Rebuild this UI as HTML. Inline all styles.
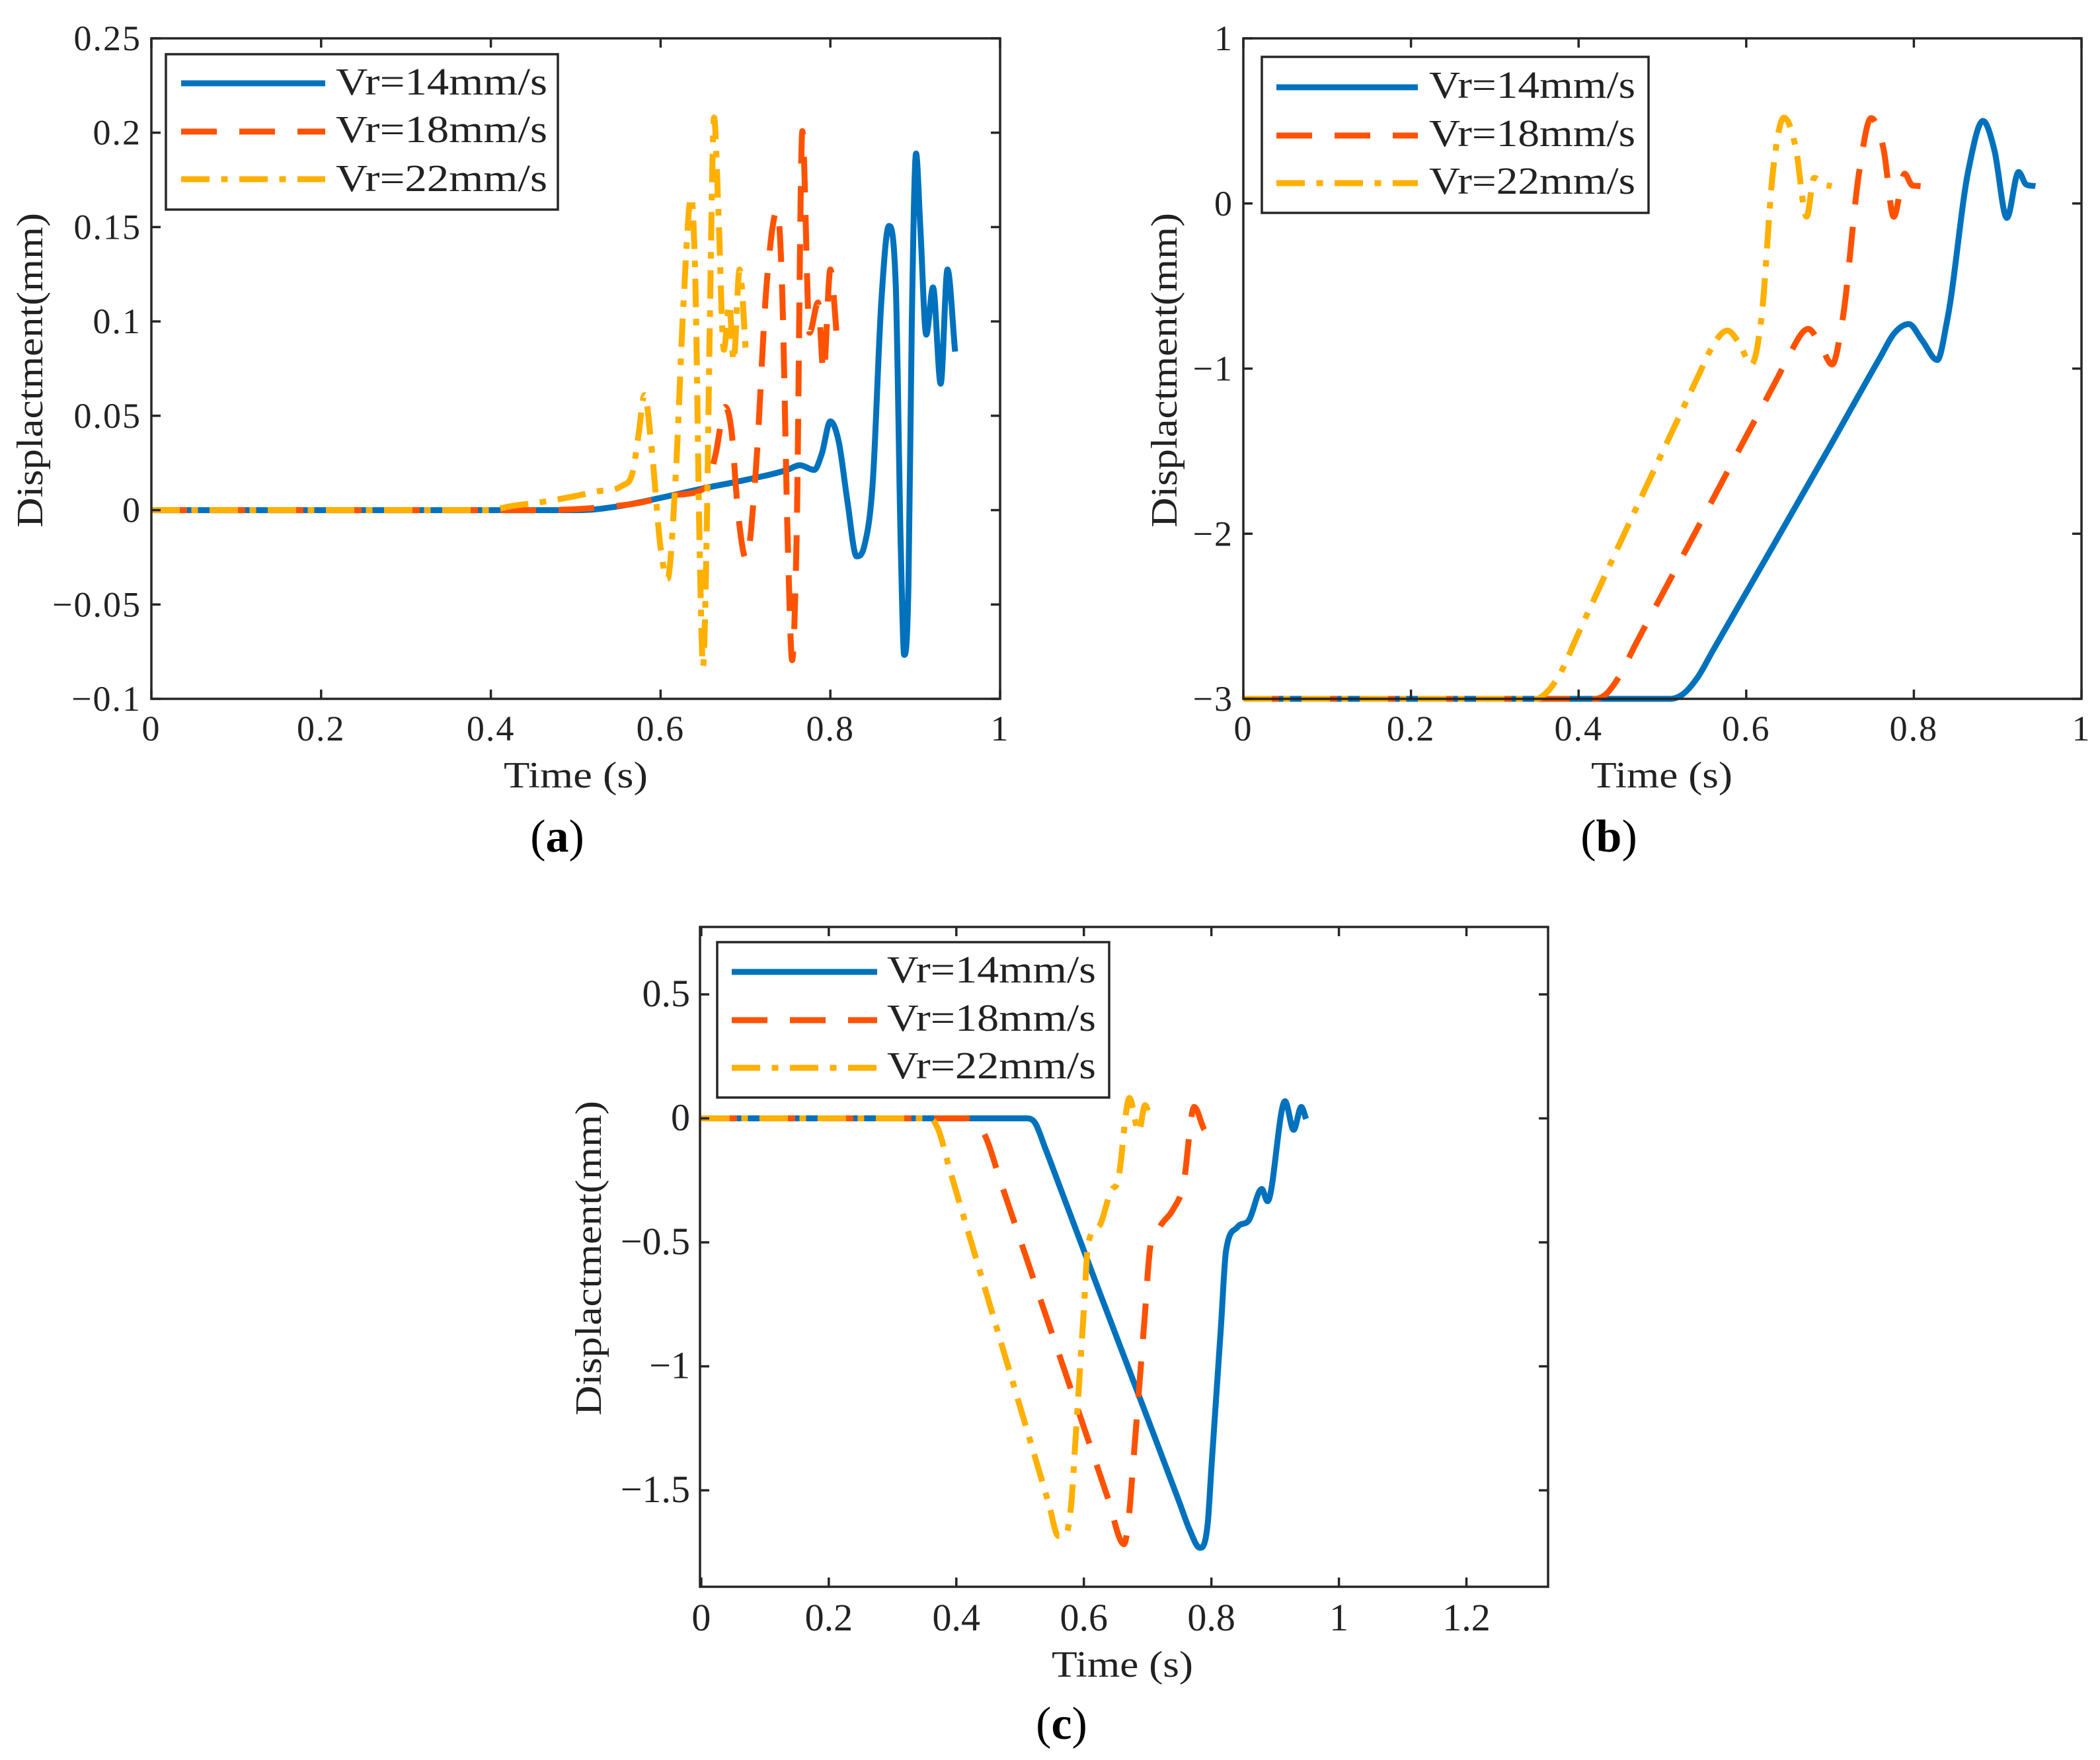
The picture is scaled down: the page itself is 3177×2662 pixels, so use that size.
<!DOCTYPE html>
<html lang="en">
<head>
<meta charset="utf-8">
<title>Displacement vs Time</title>
<style>
html,body{margin:0;padding:0;background:#fff;}
svg{display:block;}
text{font-family:"Liberation Serif",serif;fill:#222;}
.tick{font-size:54px;letter-spacing:2px;}
.tickc{font-size:58px;}
.leg{font-size:58px;}
.title{font-size:56px;}
.cap{font-size:70px;fill:#000;}
.frame{fill:none;stroke:#262626;stroke-width:3.5;}
.legbox{fill:#fff;stroke:#262626;stroke-width:3.5;}
</style>
</head>
<body>
<svg id="figure" xmlns="http://www.w3.org/2000/svg" width="3177" height="2662" viewBox="0 0 3177 2662">
  <rect width="3177" height="2662" fill="#fff"/>

  <g id="panel-a">
    <g id="a-marks"></g>
    <rect class="frame" x="229" y="58" width="1284" height="999"/>
    <g id="a-ticks"></g>
    <text class="title" x="871" y="1191" text-anchor="middle" textLength="218" lengthAdjust="spacingAndGlyphs">Time (s)</text>
    <text class="title" transform="translate(64,560) rotate(-90)" text-anchor="middle" textLength="476" lengthAdjust="spacingAndGlyphs">Displactment(mm)</text>
    <g>
      <rect class="legbox" x="251" y="82" width="593" height="235"/>
      <line x1="274" x2="492" y1="126" y2="126" stroke="#0072BD" stroke-width="9"/>
      <line x1="274" x2="492" y1="199" y2="199" stroke="#FF5200" stroke-width="9" stroke-dasharray="54 34"/>
      <line x1="274" x2="492" y1="271" y2="271" stroke="#FFB000" stroke-width="9" stroke-dasharray="43 17.5 10 17.5"/>
      <text class="leg" x="508" y="143" textLength="320" lengthAdjust="spacingAndGlyphs">Vr=14mm/s</text>
      <text class="leg" x="508" y="215" textLength="320" lengthAdjust="spacingAndGlyphs">Vr=18mm/s</text>
      <text class="leg" x="508" y="289" textLength="320" lengthAdjust="spacingAndGlyphs">Vr=22mm/s</text>
    </g>
    <text class="cap" x="843" y="1288" text-anchor="middle">(<tspan font-weight="bold">a</tspan>)</text>
  </g>

  <g id="panel-b">
    <g id="b-marks"></g>
    <rect class="frame" x="1881" y="58" width="1268" height="999"/>
    <g id="b-ticks"></g>
    <text class="title" x="2514" y="1191" text-anchor="middle" textLength="214" lengthAdjust="spacingAndGlyphs">Time (s)</text>
    <text class="title" transform="translate(1780,560) rotate(-90)" text-anchor="middle" textLength="476" lengthAdjust="spacingAndGlyphs">Displactment(mm)</text>
    <g>
      <rect class="legbox" x="1909" y="86" width="585" height="236"/>
      <line x1="1931" x2="2145" y1="132" y2="132" stroke="#0072BD" stroke-width="9"/>
      <line x1="1931" x2="2145" y1="205" y2="205" stroke="#FF5200" stroke-width="9" stroke-dasharray="54 34"/>
      <line x1="1931" x2="2145" y1="277" y2="277" stroke="#FFB000" stroke-width="9" stroke-dasharray="43 17.5 10 17.5"/>
      <text class="leg" x="2162" y="148" textLength="312" lengthAdjust="spacingAndGlyphs">Vr=14mm/s</text>
      <text class="leg" x="2162" y="221" textLength="312" lengthAdjust="spacingAndGlyphs">Vr=18mm/s</text>
      <text class="leg" x="2162" y="293" textLength="312" lengthAdjust="spacingAndGlyphs">Vr=22mm/s</text>
    </g>
    <text class="cap" x="2434" y="1288" text-anchor="middle">(<tspan font-weight="bold">b</tspan>)</text>
  </g>

  <g id="panel-c">
    <g id="c-marks"></g>
    <rect class="frame" x="1059" y="1402" width="1283" height="998"/>
    <g id="c-ticks"></g>
    <text class="title" x="1698" y="2536" text-anchor="middle" textLength="214" lengthAdjust="spacingAndGlyphs">Time (s)</text>
    <text class="title" transform="translate(909,1903) rotate(-90)" text-anchor="middle" textLength="476" lengthAdjust="spacingAndGlyphs">Displactment(mm)</text>
    <g>
      <rect class="legbox" x="1085" y="1425" width="593" height="235"/>
      <line x1="1107" x2="1327" y1="1470" y2="1470" stroke="#0072BD" stroke-width="9"/>
      <line x1="1107" x2="1327" y1="1543" y2="1543" stroke="#FF5200" stroke-width="9" stroke-dasharray="54 34"/>
      <line x1="1107" x2="1327" y1="1615" y2="1615" stroke="#FFB000" stroke-width="9" stroke-dasharray="43 17.5 10 17.5"/>
      <text class="leg" x="1342" y="1486" textLength="316" lengthAdjust="spacingAndGlyphs">Vr=14mm/s</text>
      <text class="leg" x="1342" y="1559" textLength="316" lengthAdjust="spacingAndGlyphs">Vr=18mm/s</text>
      <text class="leg" x="1342" y="1631" textLength="316" lengthAdjust="spacingAndGlyphs">Vr=22mm/s</text>
    </g>
    <text class="cap" x="1606" y="2630" text-anchor="middle">(<tspan font-weight="bold">c</tspan>)</text>
  </g>
</svg>

<script>
// ---------- Panel (a) data ----------
const aXTicks = [0, 0.2, 0.4, 0.6, 0.8, 1];
const aXLabels = ["0", "0.2", "0.4", "0.6", "0.8", "1"];
const aYTicks = [-0.1, -0.05, 0, 0.05, 0.1, 0.15, 0.2, 0.25];
const aYLabels = ["\u22120.1", "\u22120.05", "0", "0.05", "0.1", "0.15", "0.2", "0.25"];
const aT14 = [0, 0.5, 0.52, 0.55, 0.6, 0.65, 0.7, 0.75, 0.764, 0.781, 0.79, 0.8, 0.81, 0.82, 0.831, 0.84, 0.85, 0.86, 0.869, 0.877, 0.883, 0.887, 0.892, 0.896, 0.901, 0.906, 0.913, 0.921, 0.93, 0.938, 0.947];
const aV14 = [0, 0, 0.0003, 0.002, 0.0065, 0.0115, 0.016, 0.0215, 0.0238, 0.0213, 0.03, 0.047, 0.036, 0.005, -0.0245, -0.019, 0.015, 0.11, 0.1506, 0.12, -0.02, -0.0767, -0.04, 0.1, 0.189, 0.15, 0.093, 0.118, 0.067, 0.1275, 0.084];
const aT18 = [0, 0.46, 0.5, 0.53, 0.57, 0.61, 0.653, 0.665, 0.676, 0.684, 0.69, 0.701, 0.712, 0.725, 0.7375, 0.743, 0.75, 0.755, 0.76, 0.767, 0.7755, 0.7855, 0.792, 0.8, 0.808];
const aV18 = [0, 0, 0.0005, 0.0015, 0.0035, 0.0075, 0.012, 0.03, 0.0547, 0.04, 0.005, -0.026, 0.02, 0.12, 0.159, 0.12, -0.02, -0.0795, -0.02, 0.2008, 0.094, 0.11, 0.073, 0.1275, 0.09];
const aT22 = [0, 0.4, 0.42, 0.47, 0.524, 0.555, 0.567, 0.574, 0.581, 0.59, 0.6, 0.608, 0.618, 0.627, 0.636, 0.641, 0.646, 0.65, 0.654, 0.658, 0.663, 0.668, 0.6745, 0.681, 0.686, 0.693, 0.701];
const aV22 = [0, 0, 0.0018, 0.005, 0.0098, 0.013, 0.02, 0.04, 0.061, 0.03, -0.02, -0.0365, 0.02, 0.11, 0.166, 0.12, -0.02, -0.083, -0.02, 0.1, 0.208, 0.16, 0.085, 0.109, 0.079, 0.1275, 0.08];

// ---------- Panel (b) data ----------
const bXTicks = [0, 0.2, 0.4, 0.6, 0.8, 1];
const bXLabels = ["0", "0.2", "0.4", "0.6", "0.8", "1"];
const bYTicks = [-3, -2, -1, 0, 1];
const bYLabels = ["\u22123", "\u22122", "\u22121", "0", "1"];
const bT14 = [0, 0.51, 0.522, 0.542, 0.56, 0.62, 0.7, 0.76, 0.776, 0.794, 0.81, 0.828, 0.84, 0.865, 0.8825, 0.896, 0.911, 0.925, 0.934, 0.945];
const bV14 = [-3, -3, -2.98, -2.87, -2.71, -2.18, -1.47, -0.93, -0.79, -0.73, -0.83, -0.948, -0.7, 0.2, 0.5, 0.325, -0.087, 0.19, 0.115, 0.105];
const bT18 = [0, 0.42, 0.433, 0.444, 0.47, 0.53, 0.6, 0.64, 0.651, 0.674, 0.688, 0.7025, 0.715, 0.735, 0.749, 0.764, 0.776, 0.789, 0.798, 0.808];
const bV18 = [-3, -3, -2.97, -2.9, -2.65, -2.08, -1.41, -1.03, -0.92, -0.76, -0.85, -0.975, -0.7, 0.2, 0.517, 0.325, -0.08, 0.18, 0.11, 0.105];
const bT22 = [0, 0.35, 0.36, 0.376, 0.4, 0.46, 0.52, 0.545, 0.557, 0.5775, 0.592, 0.606, 0.618, 0.632, 0.645, 0.659, 0.672, 0.681, 0.693, 0.702];
const bV22 = [-3, -3, -2.97, -2.865, -2.6, -1.94, -1.29, -1.02, -0.89, -0.77, -0.85, -0.975, -0.7, 0.2, 0.52, 0.34, -0.08, 0.155, 0.115, 0.105];

// ---------- Panel (c) data ----------
const cXTicks = [0, 0.2, 0.4, 0.6, 0.8, 1, 1.2];
const cXLabels = ["0", "0.2", "0.4", "0.6", "0.8", "1", "1.2"];
const cYTicks = [-1.5, -1, -0.5, 0, 0.5];
const cYLabels = ["\u22121.5", "\u22121", "\u22120.5", "0", "0.5"];
const cT14 = [0, 0.51, 0.522, 0.54, 0.56, 0.62, 0.7, 0.75, 0.766, 0.782, 0.794, 0.8, 0.815, 0.823, 0.841, 0.859, 0.879, 0.888, 0.9155, 0.929, 0.941, 0.9485];
const cV14 = [0, 0, -0.013, -0.124, -0.26, -0.67, -1.21, -1.55, -1.66, -1.732, -1.64, -1.41, -0.84, -0.533, -0.438, -0.41, -0.285, -0.334, 0.069, -0.046, 0.046, -0.002];
const cT18 = [0, 0.42, 0.444, 0.47, 0.53, 0.59, 0.625, 0.6375, 0.663, 0.671, 0.678, 0.695, 0.704, 0.72, 0.74, 0.756, 0.773, 0.792, 0.8];
const cV18 = [0, 0, -0.064, -0.26, -0.716, -1.17, -1.435, -1.53, -1.717, -1.595, -1.37, -0.815, -0.522, -0.434, -0.367, -0.268, 0.046, -0.053, 0.02];
const cT22 = [0, 0.359, 0.37, 0.39, 0.45, 0.51, 0.545, 0.56, 0.57, 0.581, 0.587, 0.6, 0.6066, 0.627, 0.643, 0.653, 0.6715, 0.686, 0.696, 0.704];
const cV22 = [0, 0, -0.035, -0.21, -0.73, -1.25, -1.554, -1.684, -1.684, -1.53, -1.29, -0.77, -0.51, -0.42, -0.29, -0.257, 0.082, -0.053, 0.053, 0];

// ---------- Drawing ----------
const SVGNS = "http://www.w3.org/2000/svg";
const SERIES_STYLES = [
  {key: "14", color: "#0072BD", dash: ""},
  {key: "18", color: "#FF5200", dash: "54 34"},
  {key: "22", color: "#FFB000", dash: "43 17.5 10 17.5"}
];

function linear(d0, d1, r0, r1) {
  return function (v) { return r0 + (v - d0) * (r1 - r0) / (d1 - d0); };
}

// Cubic path through the data points: finite-difference tangents,
// zero at local extrema and limited so that no segment overshoots.
function monotonePath(ts, vs, sx, sy) {
  const n = ts.length, xs = ts.map(sx), ys = vs.map(sy);
  const d = [], m = new Array(n).fill(0);
  for (let i = 0; i < n - 1; i++) d.push((ys[i + 1] - ys[i]) / (xs[i + 1] - xs[i]));
  m[0] = d[0]; m[n - 1] = d[n - 2];
  for (let i = 1; i < n - 1; i++) {
    if (d[i - 1] * d[i] <= 0) { m[i] = 0; continue; }
    const h0 = xs[i] - xs[i - 1], h1 = xs[i + 1] - xs[i];
    const p = (d[i - 1] * h1 + d[i] * h0) / (h0 + h1);
    const lim = 3 * Math.min(Math.abs(d[i - 1]), Math.abs(d[i]));
    m[i] = Math.sign(p) * Math.min(Math.abs(p), lim);
  }
  let p = "M" + xs[0].toFixed(2) + " " + ys[0].toFixed(2);
  for (let i = 0; i < n - 1; i++) {
    const h = (xs[i + 1] - xs[i]) / 3;
    p += "C" + (xs[i] + h).toFixed(2) + " " + (ys[i] + m[i] * h).toFixed(2) + " " +
         (xs[i + 1] - h).toFixed(2) + " " + (ys[i + 1] - m[i + 1] * h).toFixed(2) + " " +
         xs[i + 1].toFixed(2) + " " + ys[i + 1].toFixed(2);
  }
  return p;
}

function drawPanel(cfg) {
  const sx = linear(cfg.xDom[0], cfg.xDom[1], cfg.left, cfg.right);
  const sy = linear(cfg.yDom[0], cfg.yDom[1], cfg.bottom, cfg.top);
  const marks = document.getElementById(cfg.id + "-marks");
  const ticks = document.getElementById(cfg.id + "-ticks");

  cfg.series.forEach(function (s, i) {
    const style = SERIES_STYLES[i];
    const el = document.createElementNS(SVGNS, "path");
    
    
    el.setAttribute("d", monotonePath(s[0], s[1], sx, sy));
    el.setAttribute("fill", "none");
    el.setAttribute("stroke", style.color);
    el.setAttribute("stroke-width", "9");
    el.setAttribute("stroke-linejoin", "round");
    if (style.dash) el.setAttribute("stroke-dasharray", style.dash);
    marks.appendChild(el);
  });

  const TL = 14;
  cfg.xTicks.forEach(function (t, i) {
    const x = sx(t);
    [[cfg.bottom, cfg.bottom - TL], [cfg.top, cfg.top + TL]].forEach(function (e) {
      const l = document.createElementNS(SVGNS, "line");
      
      
      l.setAttribute("x1", x); l.setAttribute("x2", x);
      l.setAttribute("y1", e[0]); l.setAttribute("y2", e[1]);
      l.setAttribute("stroke", "#262626"); l.setAttribute("stroke-width", "3.5");
      ticks.appendChild(l);
    });
    const txt = document.createElementNS(SVGNS, "text");
    
    
    txt.setAttribute("class", cfg.tickClass);
    txt.setAttribute("x", x);
    txt.setAttribute("y", cfg.xLabelY);
    txt.setAttribute("text-anchor", "middle");
    txt.textContent = cfg.xLabels[i];
    ticks.appendChild(txt);
  });

  cfg.yTicks.forEach(function (v, i) {
    const y = sy(v);
    [[cfg.left, cfg.left + TL], [cfg.right, cfg.right - TL]].forEach(function (e) {
      const l = document.createElementNS(SVGNS, "line");
      
      
      l.setAttribute("y1", y); l.setAttribute("y2", y);
      l.setAttribute("x1", e[0]); l.setAttribute("x2", e[1]);
      l.setAttribute("stroke", "#262626"); l.setAttribute("stroke-width", "3.5");
      ticks.appendChild(l);
    });
    const txt = document.createElementNS(SVGNS, "text");
    
    
    txt.setAttribute("class", cfg.tickClass);
    txt.setAttribute("x", cfg.left - 15);
    txt.setAttribute("y", y + 18);
    txt.setAttribute("text-anchor", "end");
    txt.textContent = cfg.yLabels[i];
    ticks.appendChild(txt);
  });
}

drawPanel({
  id: "a", left: 229, right: 1513, top: 58, bottom: 1057,
  xDom: [0, 1], yDom: [-0.1, 0.25], xLabelY: 1120, tickClass: "tick",
  xTicks: aXTicks, xLabels: aXLabels, yTicks: aYTicks, yLabels: aYLabels,
  series: [[aT14, aV14], [aT18, aV18], [aT22, aV22]]
});
drawPanel({
  id: "b", left: 1881, right: 3149, top: 58, bottom: 1057,
  xDom: [0, 1], yDom: [-3, 1], xLabelY: 1120, tickClass: "tick",
  xTicks: bXTicks, xLabels: bXLabels, yTicks: bYTicks, yLabels: bYLabels,
  series: [[bT14, bV14], [bT18, bV18], [bT22, bV22]]
});
drawPanel({
  id: "c", left: 1059, right: 2342, top: 1402, bottom: 2400,
  xDom: [-0.002, 1.328], yDom: [-1.889, 0.772], xLabelY: 2466, tickClass: "tickc",
  xTicks: cXTicks, xLabels: cXLabels, yTicks: cYTicks, yLabels: cYLabels,
  series: [[cT14, cV14], [cT18, cV18], [cT22, cV22]]
});
</script>
</body>
</html>
